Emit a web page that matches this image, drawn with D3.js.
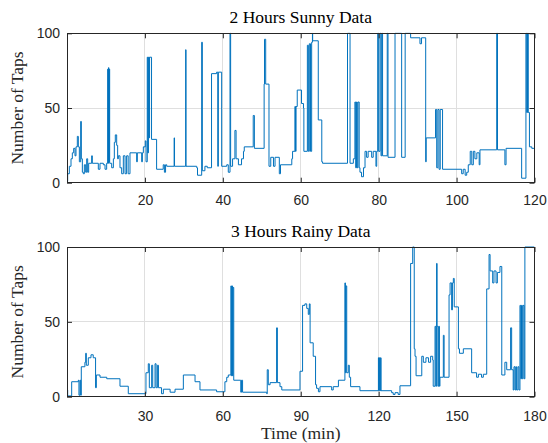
<!DOCTYPE html>
<html>
<head>
<meta charset="utf-8">
<script src="https://cdn.jsdelivr.net/npm/d3@7"></script>
<style>
  html, body { margin: 0; padding: 0; background: #ffffff; }
  svg { display: block; }
</style>
</head>
<body>
<svg id="chart" width="548" height="443"></svg>
<script>
// ---- Sunny session: tap count over a 2 hour recording (step samples) ----
const sunnyMinutes = [
  0, 0.17, 0.6, 1.03, 1.37, 1.71, 2.05, 2.31, 2.65, 2.91, 3.17, 3.51, 3.68, 3.94, 4.19, 4.45, 4.79, 5.05, 5.31, 5.56,
  6.33, 6.5, 8.04, 8.47, 9.33, 9.76, 10.18, 10.44, 10.55, 10.65, 10.75, 10.85, 10.95, 11.47, 11.9, 12.15, 12.4, 12.75,
  13.0, 13.18, 13.6, 14.03, 14.46, 14.9, 15.3, 15.7, 16.17, 17.88, 18.05, 19.17, 19.35, 19.6, 20.1, 20.28, 20.6, 20.75,
  20.9, 21.1, 21.2, 21.7, 23.0, 24.7, 25.0, 25.3, 25.6, 27.5, 27.6, 30.46, 30.55, 33.3, 33.5, 34.57, 34.74, 35.4, 36.0,
  37.1, 38.4, 38.7, 38.85, 39.7, 41.0, 41.4, 41.84, 42.0, 42.5, 43.1, 43.4, 44.0, 44.8, 45.3, 45.5, 47.8, 48.1, 50.6,
  50.7, 51.0, 51.85, 52.3, 53.0, 53.4, 54.5, 54.8, 57.7, 57.9, 58.5, 58.65, 58.8, 59.1, 60.2, 60.7, 60.8, 61.7, 61.95,
  62.2, 62.5, 62.8, 63.0, 63.06, 64.5, 65.4, 65.6, 72.0, 72.65, 73.5, 73.9, 74.1, 74.3, 74.5, 74.7, 75.0, 75.2, 75.6,
  76.1, 76.5, 76.9, 77.3, 78.2, 78.6, 79.3, 79.5, 79.75, 80.0, 80.35, 80.6, 80.8, 81.0, 82.2, 82.4, 84.2, 85.9, 86.8,
  88.2, 90.6, 91.0, 92.07, 92.2, 94.6, 94.9, 95.2, 95.5, 95.8, 96.4, 101.3, 101.7, 102.2, 102.6, 103.0, 103.5, 103.9,
  104.3, 104.7, 105.2, 105.8, 106.0, 110.3, 110.5, 112.4, 112.7, 116.7, 117.8, 118.0, 118.2, 118.4, 118.7, 119.3, 120
];
const sunnyTaps = [
  1, 6, 11, 16, 20, 23, 18, 24, 31, 24, 14, 41, 16, 7, 6, 12, 7, 16, 7, 13,
  18, 13, 9, 13, 12, 9, 13, 76, 13, 77, 14, 76, 13, 10, 16, 27, 32, 25,
  16, 18, 10, 6, 18, 6, 18, 6, 20, 14, 20, 14, 20, 24, 28, 14, 84, 20,
  84, 30, 84, 29, 9, 12, 7, 12, 11, 30, 11, 89, 11, 10, 5, 94, 8, 11, 10,
  73, 74, 11, 74, 11, 12, 7, 100, 11, 16, 35, 16, 12, 16, 21, 24, 45, 23, 66,
  96, 66, 11, 17, 11, 17, 6, 12, 16, 21, 51, 21, 51, 62, 53, 50, 21, 92, 21,
  93, 21, 94, 100, 95, 42, 14, 13, 100, 13, 16, 54, 10, 54, 10, 54, 10, 7, 4,
  10, 21, 17, 21, 17, 21, 11, 21, 100, 21, 100, 18, 100, 18, 100, 17, 100, 17, 100,
  97, 93, 97, 14, 30, 49, 10, 49, 9, 49, 9, 6, 9, 5, 7, 12, 21, 12,
  21, 16, 20, 12, 22, 100, 22, 12, 23, 3, 100, 47, 100, 47, 24, 23, 23
];

// ---- Rainy session: tap count over a 3 hour recording (step samples) ----
const rainyMinutes = [
  0, 0.26, 1.8, 4.36, 4.6, 5.0, 5.26, 5.5, 6.9, 7.2, 7.44, 8.2, 9.24, 10.1, 11.0, 11.3, 12.7, 15.3, 20.4, 23.6,
  30.4, 31.3, 31.7, 32.6, 33.0, 33.9, 34.3, 34.8, 35.2, 36.4, 37.1, 39.7, 41.6, 44.8, 49.3, 51.2, 57.6, 60.8, 61.5,
  62.1, 63.1, 63.3, 63.5, 63.7, 63.9, 64.2, 66.9, 67.2, 67.6, 76.9, 77.1, 77.5, 78.2, 80.7, 81.0, 82.0, 82.7, 89.7,
  90.7, 91.6, 92.3, 92.9, 93.3, 93.6, 94.8, 95.7, 96.1, 96.8, 97.4, 101.9, 102.5, 104.5, 107.0, 107.2, 107.4, 107.7,
  108.3, 108.7, 109.2, 112.8, 119.9, 120.1, 120.3, 120.6, 120.8, 120.9, 125.0, 125.6, 126.3, 127.5, 128.2, 132.3,
  133.1, 133.7, 134.0, 134.4, 136.6, 137.2, 138.2, 139.2, 140.0, 140.8, 141.0, 141.7, 142.0, 142.3, 142.5, 142.8,
  143.1, 143.4, 143.6, 144.9, 145.2, 147.1, 147.5, 148.1, 148.4, 148.75, 149.1, 150.7, 151.1, 152.6, 155.8, 157.7,
  158.4, 159.6, 160.3, 161.6, 162.5, 162.9, 163.9, 164.4, 165.2, 165.7, 166.7, 167.4, 168.6, 169.3, 170.8, 171.2,
  171.8, 172.1, 172.5, 172.8, 173.1, 173.6, 174.0, 174.4, 174.7, 175.0, 175.3, 175.6, 176.0, 176.3, 180
];
const rainyTaps = [
  4.5, 0.5, 10, 11, 1, 11, 1, 20, 23, 29, 21, 26, 28, 26, 6, 14.5, 13, 12, 7, 2,
  16, 22, 6, 21, 6, 22, 6, 21, 6, 2, 5, 3, 5, 14.5, 10, 4.5, 3.3, 10, 13,
  14.5, 74, 14, 74, 14, 73, 11, 3, 11, 3, 2, 18, 8, 9.4, 46, 9.4, 6.7, 4.5, 17,
  61, 62, 59, 55, 62, 36, 27, 8, 5.6, 3.3, 6.7, 4.5, 6.7, 11, 76, 16, 74, 16,
  21, 13, 6.7, 4, 26, 4, 26, 4, 26, 4, 2.7, 1.5, 2.7, 1.5, 7.3, 89,
  100, 32, 27, 14, 27, 23, 26, 23, 27, 24.5, 7, 47, 7, 89, 47, 7,
  47, 7, 13, 41, 13, 68, 76, 58, 76, 79, 60, 32, 29, 32, 16, 13,
  15, 13, 15, 72, 95, 84, 76, 84, 76, 83, 87, 14.5, 23, 18, 46, 18,
  4.5, 20, 4.5, 20, 4.5, 20, 4.5, 61, 12, 61, 12, 61, 12, 100, 100
];

// ---- Axis tick values ----
const sunnyTicks = [20, 40, 60, 80, 100, 120];
const rainyTicks = [30, 60, 90, 120, 150, 180];
const tapTicks = [0, 50, 100];

const svg = d3.select("#chart");
const left = 67, right = 534.5;

const panels = [
  { title: "2 Hours Sunny Data", minutes: sunnyMinutes, taps: sunnyTaps, xMax: 120,
    xTicks: sunnyTicks, top: 33.3, bottom: 182.7, labelPad: 12, xLabel: null },
  { title: "3 Hours Rainy Data", minutes: rainyMinutes, taps: rainyTaps, xMax: 180,
    xTicks: rainyTicks, top: 247, bottom: 396.7, labelPad: 14, xLabel: "Time (min)" }
];

const serif = "'Liberation Serif', 'Times New Roman', serif";
const sans = "'Liberation Sans', Arial, Helvetica, sans-serif";
const axisColor = "#262626";

panels.forEach((p, i) => {
  const x = d3.scaleLinear().domain([0, p.xMax]).range([left, right]);
  const y = d3.scaleLinear().domain([0, 100]).range([p.bottom, p.top]);
  const g = svg.append("g");

  // grid lines
  const grid = g.append("g").attr("stroke", "#dfdfdf").attr("stroke-width", 1).attr("shape-rendering", "crispEdges");
  grid.selectAll(".gx").data(p.xTicks).join("line")
    .attr("x1", d => x(d)).attr("x2", d => x(d))
    .attr("y1", p.top).attr("y2", p.bottom);
  grid.selectAll(".gy").data(tapTicks).join("line")
    .attr("x1", left).attr("x2", right)
    .attr("y1", d => y(d)).attr("y2", d => y(d));

  // data line
  const clipId = "clip" + i;
  svg.append("clipPath").attr("id", clipId).append("rect")
    .attr("x", left).attr("y", p.top - 1).attr("width", right - left).attr("height", p.bottom - p.top + 2);
  const pts = p.minutes.map((m, k) => [m, p.taps[k]]);
  const line = d3.line().x(d => x(d[0])).y(d => y(d[1])).curve(d3.curveStepAfter);
  g.append("path").datum(pts)
    .attr("clip-path", `url(#${clipId})`)
    .attr("fill", "none").attr("stroke", "#0072BD").attr("stroke-width", 1)
    .attr("stroke-linejoin", "miter")
    .attr("d", line);

  // axes with inward ticks on all four sides
  const styleAxis = sel => {
    sel.select(".domain").remove();
    sel.selectAll(".tick line").attr("stroke", axisColor);
    sel.selectAll("text").attr("fill", axisColor).style("font-family", sans).style("font-size", "14px");
  };
  g.append("g").attr("transform", `translate(0,${p.bottom})`)
    .call(d3.axisBottom(x).tickValues(p.xTicks).tickSizeInner(-5).tickSizeOuter(0).tickPadding(p.labelPad))
    .call(styleAxis);
  g.append("g").attr("transform", `translate(0,${p.top})`)
    .call(d3.axisTop(x).tickValues(p.xTicks).tickSizeInner(-5).tickSizeOuter(0).tickFormat(""))
    .call(styleAxis);
  g.append("g").attr("transform", `translate(${left},0)`)
    .call(d3.axisLeft(y).tickValues(tapTicks).tickSizeInner(-5).tickSizeOuter(0).tickPadding(7))
    .call(styleAxis);
  g.append("g").attr("transform", `translate(${right},0)`)
    .call(d3.axisRight(y).tickValues(tapTicks).tickSizeInner(-5).tickSizeOuter(0).tickFormat(""))
    .call(styleAxis);

  // box
  g.append("rect").attr("x", left).attr("y", p.top)
    .attr("width", right - left).attr("height", p.bottom - p.top)
    .attr("fill", "none").attr("stroke", axisColor).attr("stroke-width", 1)
    .attr("shape-rendering", "crispEdges");

  // title
  g.append("text").attr("x", (left + right) / 2).attr("y", p.top - 10)
    .attr("text-anchor", "middle").attr("fill", "#000")
    .style("font-family", serif).style("font-size", "17.5px")
    .text(p.title);

  // y label
  g.append("text")
    .attr("transform", `translate(23,${(p.top + p.bottom) / 2}) rotate(-90)`)
    .attr("text-anchor", "middle").attr("fill", axisColor)
    .style("font-family", serif).style("font-size", "17.5px")
    .text("Number of Taps");

  if (p.xLabel) {
    g.append("text").attr("x", (left + right) / 2).attr("y", 439)
      .attr("text-anchor", "middle").attr("fill", axisColor)
      .style("font-family", serif).style("font-size", "17.5px")
      .text(p.xLabel);
  }
});
</script>
</body>
</html>
